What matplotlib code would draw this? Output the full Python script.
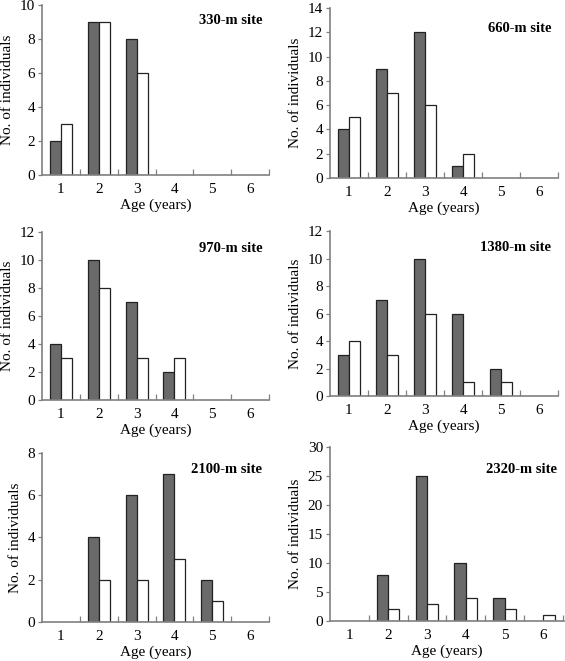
import matplotlib.pyplot as plt
import numpy as np

plt.rcParams['font.family'] = ['Liberation Serif', 'DejaVu Serif']

ages = [1, 2, 3, 4, 5, 6]
sites = ['330-m site', '660-m site', '970-m site', '1380-m site', '2100-m site', '2320-m site']

# dark bars / white bars per site, ages 1..6
dark = [
    [2, 9, 8, 0, 0, 0],
    [4, 9, 12, 1, 0, 0],
    [4, 10, 7, 2, 0, 0],
    [3, 7, 10, 6, 2, 0],
    [0, 4, 6, 7, 2, 0],
    [0, 8, 25, 10, 4, 0],
]
white = [
    [3, 9, 6, 0, 0, 0],
    [5, 7, 6, 2, 0, 0],
    [3, 8, 3, 3, 0, 0],
    [4, 3, 6, 1, 1, 0],
    [0, 2, 2, 3, 1, 0],
    [0, 2, 3, 4, 2, 1],
]
ymax = [10, 14, 12, 12, 8, 30]
ystep = [2, 2, 2, 2, 2, 5]

# axes boxes [left, bottom, width, height] in figure fraction
boxes = [
    [0.0743, 0.7352, 0.402, 0.257],
    [0.584, 0.7307, 0.404, 0.2573],
    [0.0743, 0.395, 0.402, 0.254],
    [0.584, 0.4009, 0.404, 0.2496],
    [0.0743, 0.059, 0.402, 0.2557],
    [0.584, 0.0605, 0.414, 0.2633],
]
title_y = [0.91, 0.88, 0.90, 0.90, 0.90, 0.87]

fig = plt.figure(figsize=(5.65, 6.61), dpi=100)
x = np.array(ages)
w = 0.29
grey = '#808080'

for i in range(6):
    ax = fig.add_axes(boxes[i])
    d = [v if v > 0 else np.nan for v in dark[i]]
    wh = [v if v > 0 else np.nan for v in white[i]]
    ax.bar(x - w / 2, d, width=w, color='#6a6a6a', edgecolor='#222222', linewidth=0.9)
    ax.bar(x + w / 2, wh, width=w, color='white', edgecolor='#222222', linewidth=0.9)

    xr = 6.5 if i != 5 else 6.53
    ax.set_xlim(0.5, xr)
    ax.set_ylim(0, ymax[i])
    ax.set_yticks(np.arange(0, ymax[i] + 1, ystep[i]))
    ax.set_xticks(ages)
    ax.set_xticks(np.arange(1.5, 7, 1), minor=True)
    ax.tick_params(axis='x', which='major', length=0, pad=6, labelsize=11)
    ax.tick_params(axis='x', which='minor', direction='in', length=4, color=grey, width=0.9)
    ax.tick_params(axis='y', direction='out', length=3, color=grey, width=0.9, pad=2, labelsize=11)

    for s in ['top', 'right']:
        ax.spines[s].set_visible(False)
    for s in ['left', 'bottom']:
        ax.spines[s].set_color(grey)
        ax.spines[s].set_linewidth(1.2)

    ax.set_xlabel('Age (years)', fontsize=11, labelpad=1.5)
    ax.set_ylabel('No. of individuals', fontsize=11, labelpad=4)
    ax.text(0.97, title_y[i], sites[i], transform=ax.transAxes, ha='right', va='center',
            fontsize=10.5, fontweight='bold')

fig.savefig('out.png', dpi=100)
